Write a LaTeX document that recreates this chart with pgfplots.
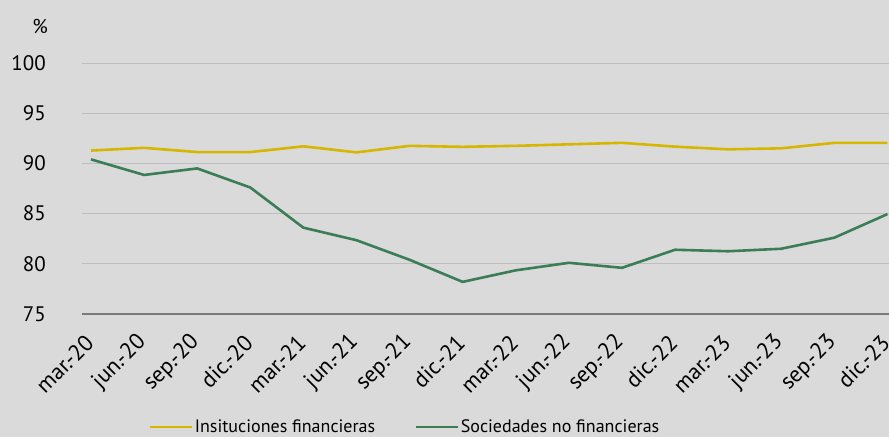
\documentclass[border=0pt]{standalone}
\usepackage{fontspec}
\setmainfont{PT Sans}
\usepackage{pgfplots}
\pgfplotsset{compat=1.18}
\definecolor{bg}{HTML}{DADADA}
\definecolor{inst}{HTML}{D6B600}
\definecolor{soc}{HTML}{3A7D56}
\definecolor{gridc}{HTML}{BEBEBE}
\definecolor{axc}{HTML}{7A7A7A}

\begin{document}
\begin{tikzpicture}[x=1pt,y=1pt]
\fill[bg] (0,0) rectangle (889,-437);
\useasboundingbox (0,0) rectangle (889,-437);
\node[font=\fontsize{20}{24}\selectfont] at (40,-26) {\%};
\begin{axis}[at={(82pt,-314pt)}, anchor=south west, scale only axis,
  width=807pt, height=251pt,
  xmin=-0.17, xmax=15.03, ymin=75, ymax=100,
  ytick={75,80,...,100}, xtick={0,...,15},
  xticklabels={mar.-20,jun.-20,sep.-20,dic.-20,mar.-21,jun.-21,sep.-21,dic.-21,
    mar.-22,jun.-22,sep.-22,dic.-22,mar.-23,jun.-23,sep.-23,dic.-23},
  axis x line*=bottom, axis y line*=left,
  x axis line style={axc, line width=1.3pt, -},
  y axis line style={draw=none},
  tick style={draw=none},
  ymajorgrids, grid style={gridc, line width=1pt},
  /pgf/number format/assume math mode=true,
  tick label style={font=\fontsize{21}{25}\selectfont, text=black},
  yticklabel style={anchor=east, inner sep=0pt, xshift=-36pt},
  xticklabel style={font=\fontsize{22.5}{26}\selectfont, xshift=-1.5pt, yshift=-25pt,
    rotate=45, anchor=east, inner sep=0pt},
  legend style={at={(0.40,-0.45)}, anchor=center, draw=none, fill=none,
    font=\fontsize{18}{21}\selectfont, legend columns=2,
    /tikz/every even column/.append style={column sep=38pt},
    nodes={inner sep=1.5pt}},
  legend image code/.code={\draw[#1, line width=2.6pt] (0pt,0pt) -- (42pt,0pt);},
]
\addplot[inst, line width=2.6pt] coordinates {
(0,91.28)(1,91.55)(2,91.13)(3,91.13)(4,91.7)(5,91.1)(6,91.75)(7,91.65)
(8,91.75)(9,91.9)(10,92.05)(11,91.67)(12,91.4)(13,91.5)(14,92.05)(15,92.05)};
\addlegendentry{Insituciones financieras}
\addplot[soc, line width=2.6pt] coordinates {
(0,90.4)(1,88.85)(2,89.5)(3,87.6)(4,83.6)(5,82.35)(6,80.4)(7,78.2)
(8,79.35)(9,80.1)(10,79.6)(11,81.4)(12,81.25)(13,81.5)(14,82.6)(15,84.95)};
\addlegendentry{Sociedades no financieras}
\end{axis}
\end{tikzpicture}
\end{document}
